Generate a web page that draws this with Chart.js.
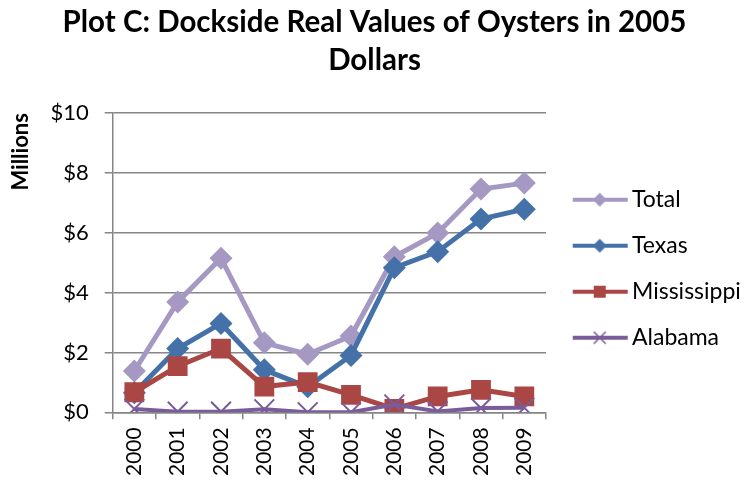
<!DOCTYPE html>
<html>
<head>
<meta charset="utf-8">
<script src="https://cdn.jsdelivr.net/npm/chart.js@4.4.1/dist/chart.umd.min.js"></script>
<style>
  html, body { margin: 0; padding: 0; background: #fff; }
  #wrap { width: 746px; height: 486px; }
</style>
</head>
<body>
<div id="wrap"><canvas id="oysterChart" width="746" height="486"></canvas></div>
<script>
// data (millions of 2005 dollars)
var years = ["2000", "2001", "2002", "2003", "2004", "2005", "2006", "2007", "2008", "2009"];
var total = [1.38, 3.69, 5.15, 2.32, 1.94, 2.55, 5.2, 5.99, 7.46, 7.66];
var texas = [0.65, 2.13, 2.97, 1.42, 0.85, 1.9, 4.83, 5.37, 6.46, 6.79];
var mississippi = [0.67, 1.54, 2.13, 0.86, 1.01, 0.58, 0.11, 0.53, 0.75, 0.53];
var alabama = [0.11, 0.02, 0.02, 0.1, 0.0, 0.0, 0.26, 0.03, 0.14, 0.15];
var yTicks = [0, 2, 4, 6, 8, 10];

var FONT = "Lato, 'Open Sans', sans-serif";

// line+marker swatch for the legend, like excel draws it
// canvas is 70 wide, the swatch itself sits from 13 to 68
function swatch(color, shape) {
  var c = document.createElement("canvas");
  c.width = 70; c.height = 18;
  var g = c.getContext("2d");
  g.strokeStyle = color;
  g.fillStyle = color;
  g.lineWidth = 4;
  g.beginPath(); g.moveTo(13, 9); g.lineTo(68, 9); g.stroke();
  var m = 40;
  if (shape == "diamond") {
    g.beginPath(); g.moveTo(m, 2); g.lineTo(m + 7, 9); g.lineTo(m, 16); g.lineTo(m - 7, 9); g.closePath(); g.fill();
  } else if (shape == "square") {
    g.fillRect(m - 6, 3, 12, 12);
  } else {
    g.lineWidth = 1.5;
    g.beginPath(); g.moveTo(m - 6, 3); g.lineTo(m + 6, 15); g.moveTo(m + 6, 3); g.lineTo(m - 6, 15); g.stroke();
  }
  return c;
}

// legend is wider than chart.js allows a side box to be, so force its width,
// and nudge it down a little to line up with the excel legend
var legendFix = {
  id: "legendFix",
  beforeUpdate: function(chart) {
    var lg = chart.legend;
    if (lg && !lg._patched) {
      var fit = lg.fit;
      lg.fit = function() { fit.call(this); this.width = 200; };
      lg._patched = true;
    }
  },
  afterLayout: function(chart) {
    chart.legend.top += 6;
    chart.legend.bottom += 6;
  }
};

var colTotal = "#A598C3";
var colTexas = "#4472A8";
var colMiss = "#AA4643";
var colAla = "#7A5C9A";

var chartdata = {
  labels: years,
  datasets: [
    {
      label: "Total", data: total, order: 4,
      borderColor: colTotal, backgroundColor: colTotal,
      borderWidth: 5, pointStyle: "rectRot", pointRadius: 11.5, pointBorderWidth: 0,
      swatch: swatch(colTotal, "diamond")
    },
    {
      label: "Texas", data: texas, order: 3,
      borderColor: colTexas, backgroundColor: colTexas,
      borderWidth: 5, pointStyle: "rectRot", pointRadius: 11.5, pointBorderWidth: 0,
      swatch: swatch(colTexas, "diamond")
    },
    {
      label: "Mississippi", data: mississippi, order: 2,
      borderColor: colMiss, backgroundColor: colMiss,
      borderWidth: 5, pointStyle: "rect", pointRadius: 14, pointBorderWidth: 0,
      swatch: swatch(colMiss, "square")
    },
    {
      label: "Alabama", data: alabama, order: 1,
      borderColor: colAla, backgroundColor: colAla,
      borderWidth: 4, pointStyle: "crossRot", pointRadius: 14, pointBorderWidth: 2,
      swatch: swatch(colAla, "cross")
    }
  ]
};

var ctx = document.getElementById("oysterChart");
var LineGraph = new Chart(ctx, {
  type: "line",
  data: chartdata,
  plugins: [legendFix],
  options: {
    responsive: false,
    animation: false,
    layout: { padding: { top: 3, right: 0, left: 3, bottom: 2 } },
    elements: { line: { tension: 0 } },
    plugins: {
      title: {
        display: true,
        text: ["Plot C: Dockside Real Values of Oysters in 2005", "Dollars"],
        color: "#000",
        font: { family: FONT, size: 29.5, weight: "bold", lineHeight: 1.29 },
        padding: { top: 0, bottom: 34 }
      },
      legend: {
        position: "right",
        fullSize: false,
        labels: {
          color: "#000",
          font: { family: FONT, size: 23 },
          usePointStyle: true,
          pointStyleWidth: 51.5,
          padding: 23,
          generateLabels: function(chart) {
            return chart.data.datasets.map(function(ds, i) {
              return {
                text: ds.label, pointStyle: ds.swatch, fillStyle: ds.borderColor,
                strokeStyle: ds.borderColor, lineWidth: 0, hidden: false, datasetIndex: i, fontColor: "#000"
              };
            });
          }
        }
      },
      tooltip: { enabled: false }
    },
    scales: {
      x: {
        offset: true,
        grid: { offset: true, drawOnChartArea: false, drawTicks: true, tickLength: 7, color: "#868686", lineWidth: 1.5 },
        border: { color: "#868686", width: 1.5 },
        ticks: { color: "#000", font: { family: FONT, size: 21 }, minRotation: 90, maxRotation: 90, padding: 8 }
      },
      y: {
        min: 0, max: 10,
        afterBuildTicks: function(axis) {
          axis.ticks = yTicks.map(function(v) { return { value: v }; });
        },
        grid: { color: "#868686", lineWidth: 1.5, tickLength: 8 },
        border: { color: "#868686", width: 1.5 },
        ticks: {
          color: "#000", font: { family: FONT, size: 22 }, padding: 16,
          callback: function(v) { return "$" + v; }
        },
        title: {
          display: true, text: "Millions", align: "end", color: "#000",
          font: { family: FONT, size: 22, weight: "bold" }, padding: { top: 5, bottom: 0 }
        }
      }
    }
  }
});
</script>
</body>
</html>
